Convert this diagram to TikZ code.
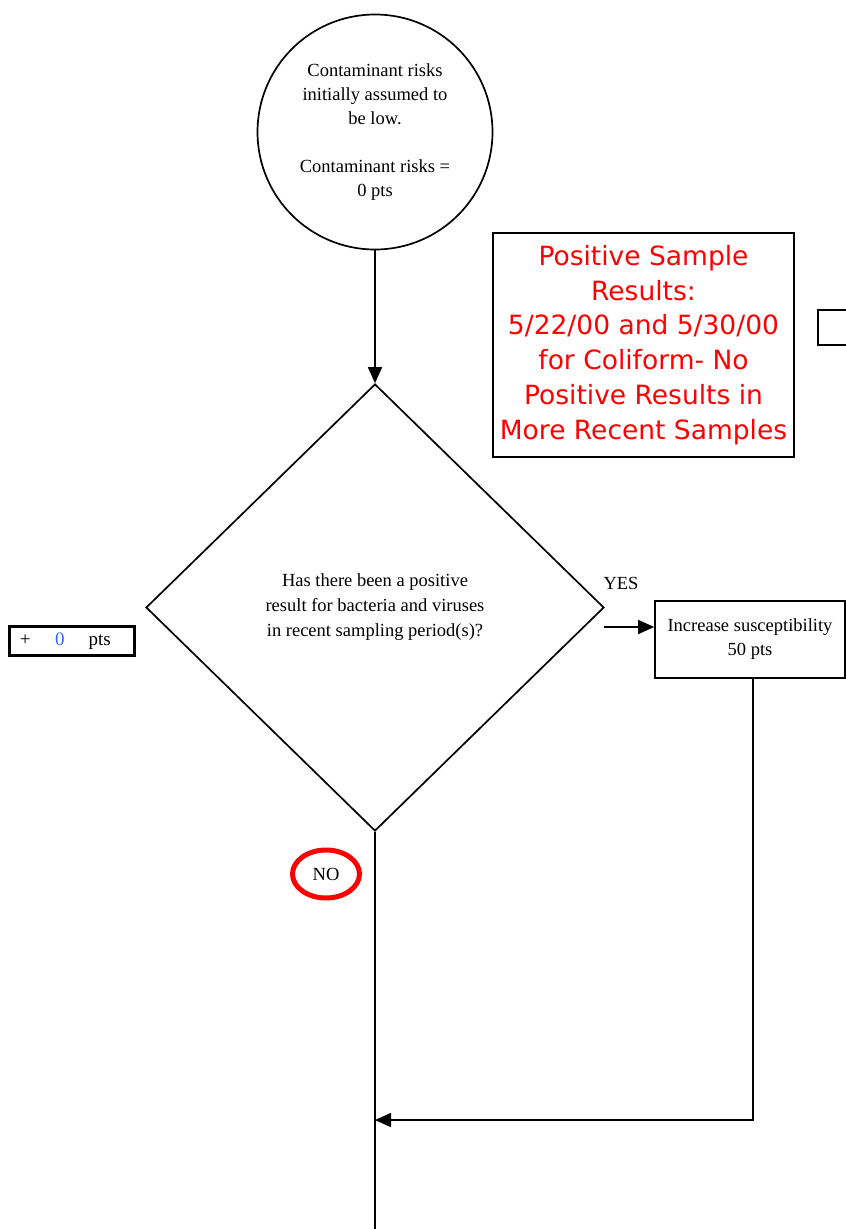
\documentclass[tikz,border=0pt]{standalone}
\usepackage{fontspec}
\setmainfont{Liberation Serif}
\newfontfamily\notefont{DejaVu Sans}
\usetikzlibrary{shapes.geometric,arrows.meta}
\definecolor{notered}{RGB}{255,0,0}
\definecolor{ptsblue}{RGB}{50,100,255}
\tikzset{
  flow/.style={line width=1.7pt},
  arr/.style={flow,-{Triangle[length=16pt,width=14pt]}},
  body/.style={font=\fontsize{18.5}{24}\selectfont, align=center},
  procbox/.style={draw, line width=1.7pt, body, inner sep=0},
}
\begin{document}
\begin{tikzpicture}[x=1pt,y=-1pt]
\useasboundingbox (0,0) rectangle (846,1229);
\clip (0,0) rectangle (846,1229);

% start circle
\node[circle, procbox, minimum size=235] (start) at (375,132)
  {Contaminant risks\\initially assumed to\\be low.\\[24pt]Contaminant risks =\\0 pts};

% decision
\node[diamond, procbox, minimum width=458, minimum height=447, aspect=1.02,
      font=\fontsize{18.5}{25}\selectfont] (q) at (375,607.5)
  {Has there been a positive\\result for bacteria and viruses\\in recent sampling period(s)?};

% red note
\node[draw, line width=1.7pt, minimum width=301, minimum height=224, inner sep=0,
      align=center, text=notered, font=\notefont\fontsize{26.5}{34.7}\selectfont] (note) at (643.5,345)
  {Positive Sample\\Results:\\5/22/00 and 5/30/00\\for Coliform- No\\Positive Results in\\More Recent Samples};

% partly visible box at the right edge
\node[draw, line width=1.7pt, minimum width=60, minimum height=35, inner sep=0, anchor=west] (edge) at (817,327.5) {};

% points box
\node[draw, line width=3pt, minimum width=125, minimum height=29, inner sep=0,
      font=\fontsize{19}{20}\selectfont] (pts) at (71.5,641)
  {\makebox[125pt][l]{\hspace{11pt}+\hspace{24.5pt}\textcolor{ptsblue}{0}\hspace{24pt}pts}};

% yes branch
\node[procbox, minimum width=190, minimum height=77] (inc) at (750,639.5)
  {Increase susceptibility\\50 pts};
\node[font=\fontsize{18.5}{20}\selectfont] (yes) at (621,583) {YES};

% no label
\node[ellipse, draw=notered, line width=5pt, minimum width=67, minimum height=48, inner sep=0,
      font=\fontsize{18.5}{20}\selectfont] (no) at (326,874) {NO};

% connector ends
\coordinate (yesfrom) at (604,627);
\coordinate (incdown) at (753,678);
\coordinate (bend) at (753,1120);
\coordinate (merge) at (375,1120);
\coordinate (bottom) at (375,1229);

\draw[arr] (start) -- (q.north);
\draw[arr] (yesfrom) -- (yesfrom -| inc.west);
\draw[flow] (q.south) -- (bottom);
\draw[arr] (incdown) -- (bend) -- (merge);
\end{tikzpicture}
\end{document}
